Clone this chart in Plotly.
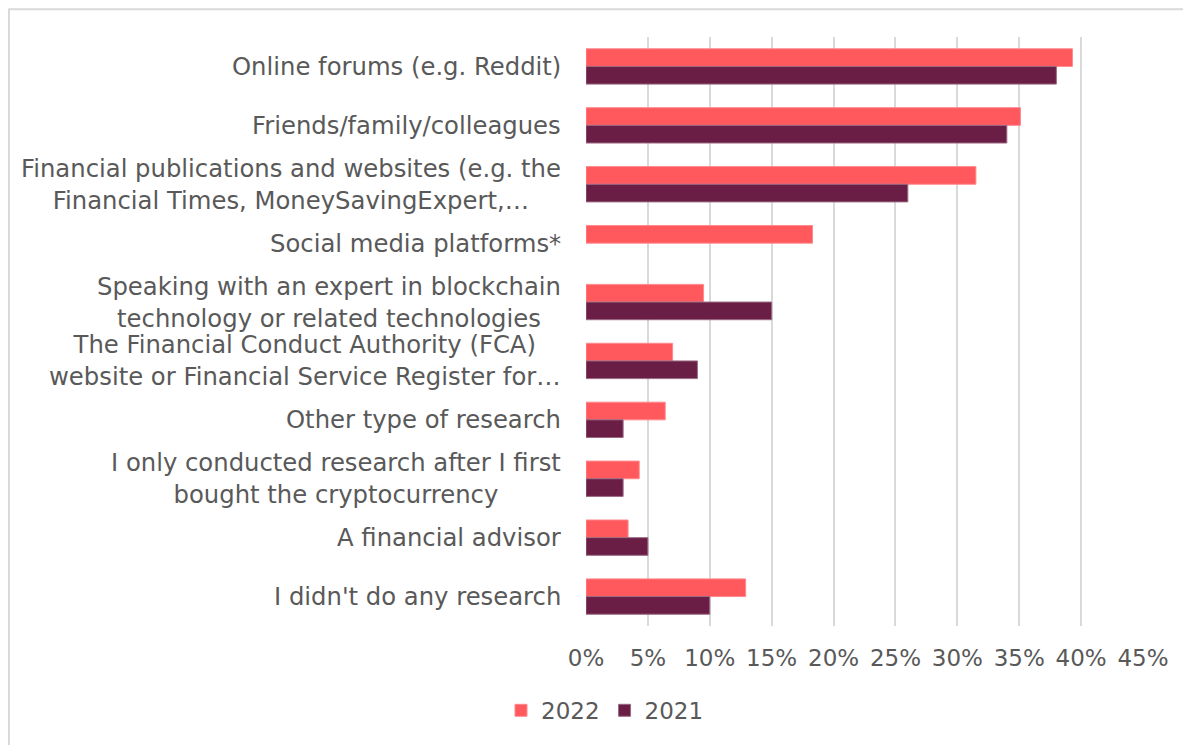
import plotly.graph_objects as go

categories = [
    "Online forums (e.g. Reddit)",
    "Friends/family/colleagues",
    "Financial publications and websites (e.g. the<br>Financial Times, MoneySavingExpert,…",
    "Social media platforms*",
    "Speaking with an expert in blockchain<br>technology or related technologies",
    "The Financial Conduct Authority (FCA)<br>website or Financial Service Register for…",
    "Other type of research",
    "I only conducted research after I first<br>bought the cryptocurrency",
    "A financial advisor",
    "I didn't do any research",
]
values_2022 = [0.393, 0.351, 0.315, 0.183, 0.095, 0.070, 0.064, 0.043, 0.034, 0.129]
values_2021 = [0.380, 0.340, 0.260, None, 0.150, 0.090, 0.030, 0.030, 0.050, 0.100]
tick_vals = [0, 0.05, 0.10, 0.15, 0.20, 0.25, 0.30, 0.35, 0.40, 0.45]
tick_text = ["0%", "5%", "10%", "15%", "20%", "25%", "30%", "35%", "40%", "45%"]

C2022 = "#FF585D"
C2021 = "#6A1E46"
TXT = "#595959"
FONT = "DejaVu Sans"

# page body has an 8px margin; work in screen pixels and convert
OX, OY = 8, 8
W, H = 1191 - OX, 745 - OY
PLOT_L, PLOT_R = 586, 1143
PLOT_T, PLOT_B = 36.5, 626.5
ML = PLOT_L - OX
MR = (W + OX) - PLOT_R
MT = PLOT_T - OY
MB = (H + OY) - PLOT_B
PW = PLOT_R - PLOT_L
PH = PLOT_B - PLOT_T

def px2x(px):
    return (px - PLOT_L) / PW

def py2y(py):
    return (PLOT_B - py) / PH

fig = go.Figure()
fig.add_trace(go.Bar(
    y=categories, x=values_2022, name="2022", orientation="h",
    marker=dict(color=C2022, line=dict(color="#FF8A8E", width=1)),
))
fig.add_trace(go.Bar(
    y=categories, x=values_2021, name="2021", orientation="h",
    marker=dict(color=C2021, line=dict(color="#9A6A82", width=1)),
))

annotations = []
for c in categories:
    annotations.append(dict(
        x=px2x(563), xref="paper", y=c, yref="y",
        text=c, showarrow=False, xanchor="right", yanchor="middle",
        align="center", font=dict(family=FONT, size=24.3, color=TXT),
    ))

shapes = [
    dict(type="line", xref="paper", yref="paper",
         x0=px2x(9), x1=px2x(1250), y0=py2y(8.8), y1=py2y(8.8),
         line=dict(color="#D9D9D9", width=2)),
    dict(type="line", xref="paper", yref="paper",
         x0=px2x(9), x1=px2x(9), y0=py2y(8), y1=py2y(800),
         line=dict(color="#D9D9D9", width=2)),
]

fig.update_layout(
    width=W, height=H,
    margin=dict(l=ML, r=MR, t=MT, b=MB, autoexpand=False),
    paper_bgcolor="white", plot_bgcolor="white",
    barmode="group", bargap=0.4, bargroupgap=0,
    font=dict(family=FONT, size=23, color=TXT),
    xaxis=dict(
        range=[0, 0.45], tickvals=tick_vals, ticktext=tick_text,
        showgrid=True, gridcolor="#D9D9D9", gridwidth=1.5,
        zeroline=False, showline=False, ticks="",
        tickfont=dict(family=FONT, size=23, color=TXT),
        ticklabelstandoff=16,
    ),
    yaxis=dict(
        autorange="reversed", showticklabels=False, showgrid=False,
        zeroline=False, showline=False, ticks="",
    ),
    legend=dict(
        orientation="h", x=px2x(605), xanchor="center",
        y=py2y(711), yanchor="middle",
        font=dict(family=FONT, size=23, color=TXT),
        itemwidth=30, traceorder="normal",
    ),
    annotations=annotations,
    shapes=shapes,
)

fig.write_html("out.html")
